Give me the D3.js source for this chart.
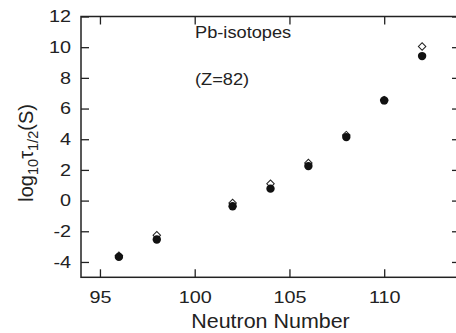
<!DOCTYPE html>
<html>
<head>
<meta charset="utf-8">
<script src="https://cdn.jsdelivr.net/npm/d3@7"></script>
<style>
  body { margin: 0; background: #fff; }
  text { font-family: "Liberation Sans", Arial, sans-serif; fill: #222; }
</style>
</head>
<body>
<div id="chart"></div>
<script>
// neutron numbers of the Pb isotopes
var neutrons = [96, 98, 102, 104, 106, 108, 110, 112];
// log10 half-life, filled circles (calculated)
var calc = [-3.67, -2.54, -0.37, 0.78, 2.25, 4.14, 6.53, 9.42];
// log10 half-life, open diamonds (experimental)
var expt = [-3.6, -2.26, -0.16, 1.1, 2.45, 4.27, 6.55, 10.04];
var xTicks = [95, 100, 105, 110];
var yTicks = [-4, -2, 0, 2, 4, 6, 8, 10, 12];

var W = 456, H = 333;
var frame = {left: 81, top: 16.5, right: 460, bottom: 277.3};
var stretch = 1.2; // the original lettering is a bit wide

var svg = d3.select("#chart")
    .append("svg")
      .attr("width", W)
      .attr("height", H);

var x = d3.scaleLinear().domain([94, 114]).range([frame.left, frame.right]);
var y = d3.scaleLinear().domain([-5, 12]).range([frame.bottom, frame.top]);

var axisColor = "#222";

// frame
svg.append("rect")
    .attr("x", frame.left).attr("y", frame.top)
    .attr("width", frame.right - frame.left).attr("height", frame.bottom - frame.top)
    .attr("fill", "none")
    .attr("stroke", axisColor)
    .attr("stroke-width", 1.5);

var plain = function (d) { return String(d); };

// bottom axis (inward ticks)
var gx = svg.append("g")
    .attr("transform", "translate(0," + frame.bottom + ")")
    .call(d3.axisBottom(x).tickValues(xTicks).tickFormat(plain).tickSizeInner(-8).tickSizeOuter(0).tickPadding(14));
// top axis, ticks only
var gxt = svg.append("g")
    .attr("transform", "translate(0," + frame.top + ")")
    .call(d3.axisTop(x).tickValues(xTicks).tickSizeInner(-8).tickSizeOuter(0).tickFormat(""));
// left axis
var gy = svg.append("g")
    .attr("transform", "translate(" + frame.left + ",0)")
    .call(d3.axisLeft(y).tickValues(yTicks).tickFormat(plain).tickSizeInner(-8).tickSizeOuter(0).tickPadding(10));
// right axis, ticks only
var gyr = svg.append("g")
    .attr("transform", "translate(" + frame.right + ",0)")
    .call(d3.axisRight(y).tickValues(yTicks).tickSizeInner(-8).tickSizeOuter(0).tickFormat(""));

[gx, gxt, gy, gyr].forEach(function(g) {
    g.select(".domain").remove();
    g.selectAll("line").attr("stroke", axisColor).attr("stroke-width", 1.3);
    g.selectAll("text").style("font-size", "16.5px").attr("fill", "#222")
        .style("font-family", "Liberation Sans, Arial, sans-serif")
        .attr("x", function () { return (+this.getAttribute("x") || 0) / stretch; })
        .attr("transform", "scale(" + stretch + ",1)");
});

// open diamonds underneath
var diamond = d3.symbol().type(d3.symbolSquare).size(28);
svg.append("g")
    .selectAll("path")
    .data(neutrons)
    .enter()
    .append("path")
    .attr("d", diamond)
    .attr("transform", function (d, i) { return "translate(" + x(d) + "," + y(expt[i]) + ") rotate(45)"; })
    .attr("fill", "#fff")
    .attr("stroke", "#222")
    .attr("stroke-width", 1);

// filled circles
svg.append("g")
    .selectAll("circle")
    .data(neutrons)
    .enter()
    .append("circle")
    .attr("cx", function (d) { return x(d); })
    .attr("cy", function (d, i) { return y(calc[i]); })
    .attr("r", 4.2)
    .attr("fill", "#111");

// annotations
svg.append("text")
    .attr("transform", "translate(195,37.5) scale(1.14,1)")
    .style("font-size", "16px")
    .text("Pb-isotopes");

svg.append("text")
    .attr("transform", "translate(195,85) scale(1.14,1)")
    .style("font-size", "16px")
    .text("(Z=82)");

// axis titles
svg.append("text")
    .attr("transform", "translate(" + ((frame.left + frame.right) / 2) + ",328) scale(1.1,1)")
    .style("text-anchor", "middle")
    .style("font-size", "19.5px")
    .text("Neutron Number");

var yl = svg.append("text")
    .attr("transform", "translate(33," + ((frame.top + frame.bottom) / 2 + 6) + ") rotate(-90)")
    .style("text-anchor", "middle")
    .style("font-size", "20px");
yl.append("tspan").text("log");
yl.append("tspan").attr("dy", 5).style("font-size", "14.5px").text("10");
yl.append("tspan").attr("dy", -5).text("\u03C4");
yl.append("tspan").attr("dy", 5).style("font-size", "14.5px").text("1/2");
yl.append("tspan").attr("dy", -5).text("(S)");
</script>
</body>
</html>
